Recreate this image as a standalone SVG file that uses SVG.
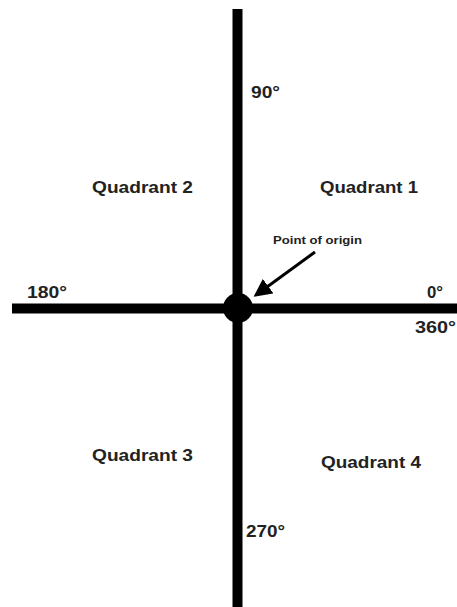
<svg xmlns="http://www.w3.org/2000/svg" width="457" height="607" viewBox="0 0 457 607">
<style>
.axis{stroke:#000;stroke-width:10;fill:none}
.lbl{font-family:"Liberation Sans",Arial,sans-serif;font-weight:bold;fill:#222}
.q{font-size:17px}
.deg{font-size:16px}
.small{font-size:10.5px}
</style>
<defs>
<marker id="ah" markerWidth="6" markerHeight="6" refX="5" refY="3" orient="auto" markerUnits="strokeWidth">
<path d="M0,0 L6,3 L0,6 z" fill="#000"/>
</marker>
</defs>
<rect width="457" height="607" fill="#fff"/>
<g id="connectors">
<line class="axis" x1="237.5" y1="9" x2="237.5" y2="607"/>
<line class="axis" x1="12" y1="308.5" x2="457" y2="308.5"/>
<line x1="315" y1="252" x2="256" y2="295" stroke="#000" stroke-width="3" marker-end="url(#ah)"/>
</g>
<g id="origin">
<circle cx="238" cy="308" r="15" fill="#000"/>
<text class="lbl small" x="273" y="244" textLength="89" lengthAdjust="spacingAndGlyphs">Point of origin</text>
</g>
<g id="q1"><text class="lbl q" x="320" y="193" textLength="98" lengthAdjust="spacingAndGlyphs">Quadrant 1</text></g>
<g id="q2"><text class="lbl q" x="92" y="193" textLength="101" lengthAdjust="spacingAndGlyphs">Quadrant 2</text></g>
<g id="q3"><text class="lbl q" x="92" y="461" textLength="101" lengthAdjust="spacingAndGlyphs">Quadrant 3</text></g>
<g id="q4"><text class="lbl q" x="321" y="468" textLength="100" lengthAdjust="spacingAndGlyphs">Quadrant 4</text></g>
<g id="d90"><text class="lbl deg" x="251" y="98" textLength="29" lengthAdjust="spacingAndGlyphs">90°</text></g>
<g id="d180"><text class="lbl deg" x="27" y="298" textLength="40" lengthAdjust="spacingAndGlyphs">180°</text></g>
<g id="d0"><text class="lbl deg" x="427" y="298" textLength="16" lengthAdjust="spacingAndGlyphs">0°</text></g>
<g id="d360"><text class="lbl deg" x="415" y="333" textLength="41" lengthAdjust="spacingAndGlyphs">360°</text></g>
<g id="d270"><text class="lbl deg" x="246" y="537" textLength="39" lengthAdjust="spacingAndGlyphs">270°</text></g>
</svg>
